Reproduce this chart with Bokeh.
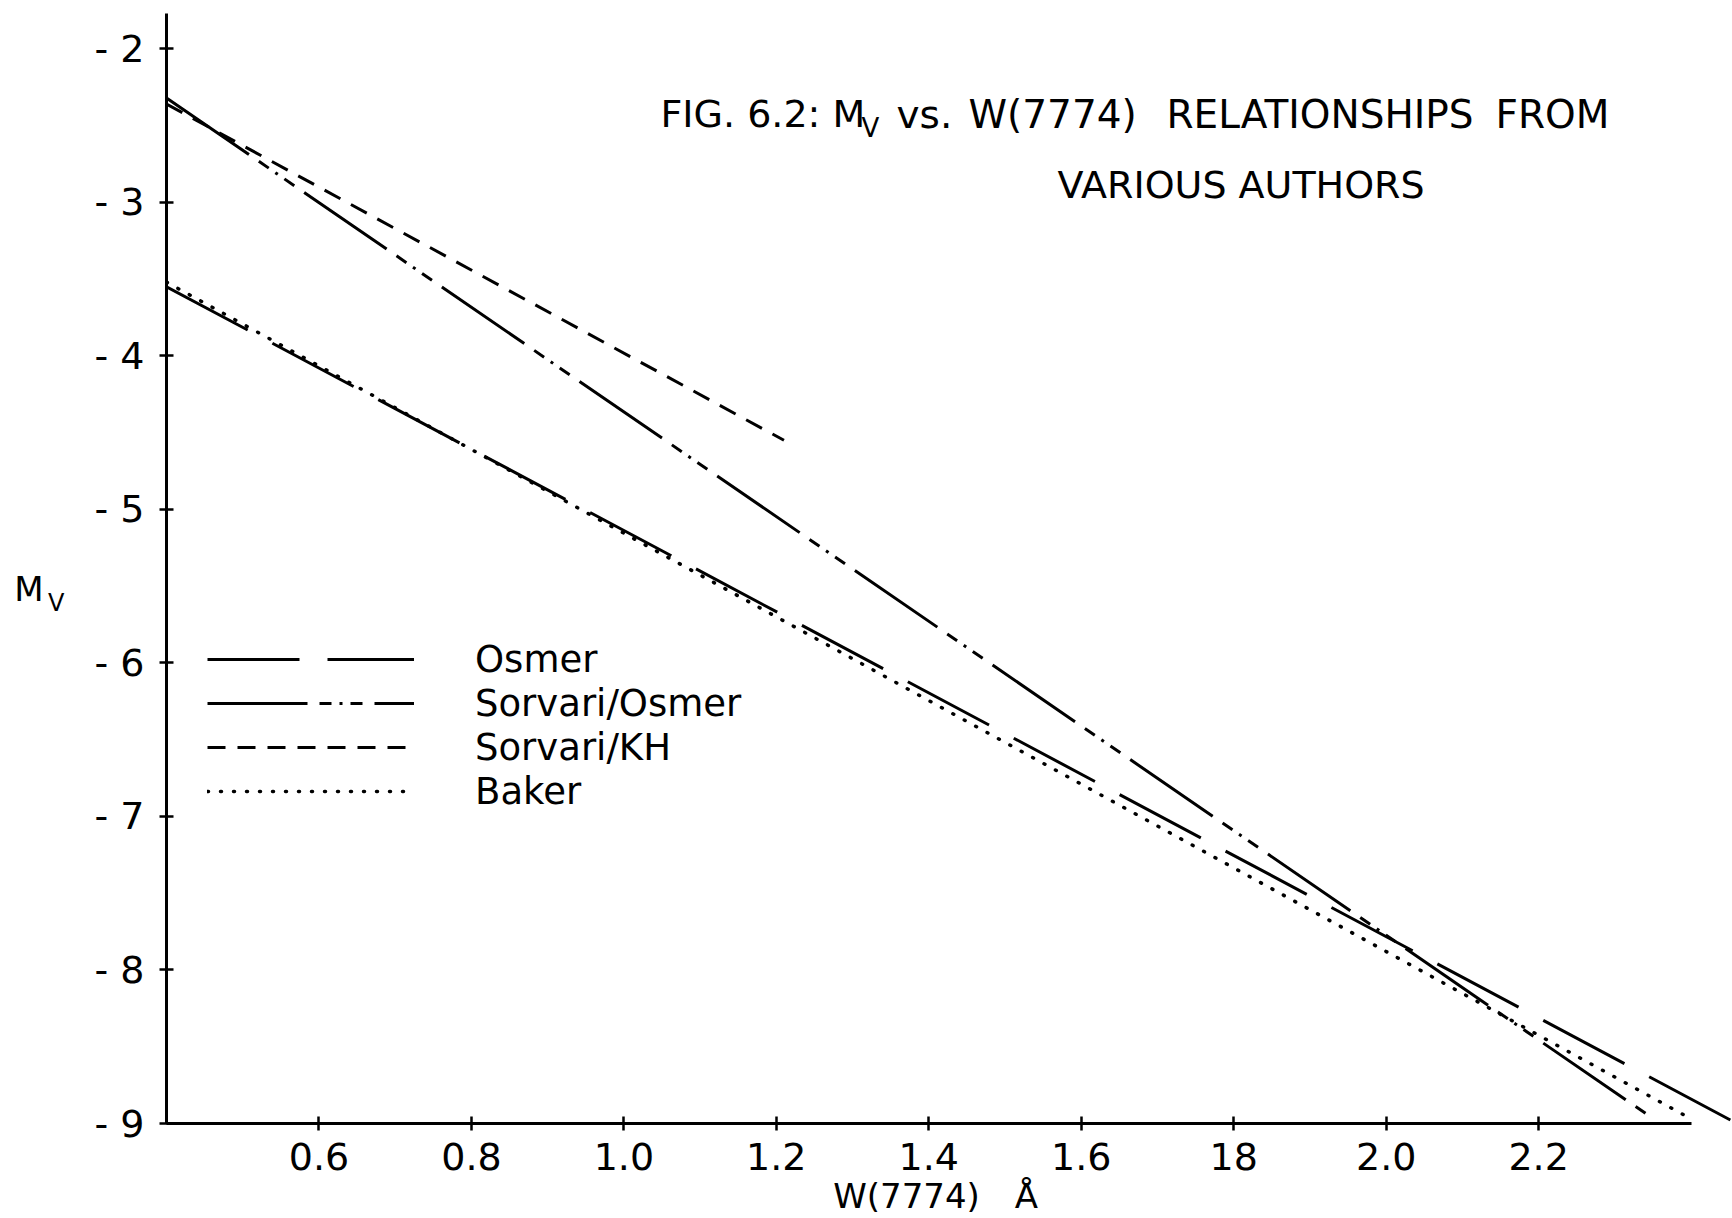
from bokeh.plotting import figure
from bokeh.models import (Range1d, FixedTicker, Label, Legend, LegendItem,
                          CustomJSTickFormatter, LinearAxis)
from bokeh.embed import file_html
from bokeh.resources import INLINE

# ---------------- data ----------------
osmer_w = [0.40, 2.46]
osmer_mv = [-3.55, -9.00]

sorvari_osmer_w = [0.40, 2.345]
sorvari_osmer_mv = [-2.32, -8.95]

sorvari_kh_w = [0.40, 1.21]
sorvari_kh_mv = [-2.36, -4.55]

baker_w = [0.40, 2.40]
baker_mv = [-3.52, -8.97]

series_names = ["Osmer", "Sorvari/Osmer", "Sorvari/KH", "Baker"]

x_ticks = [0.6, 0.8, 1.0, 1.2, 1.4, 1.6, 1.8, 2.0, 2.2]
x_tick_labels = ["0.6", "0.8", "1.0", "1.2", "1.4", "1.6", "18", "2.0", "2.2"]
y_ticks = [-2, -3, -4, -5, -6, -7, -8, -9]
y_tick_labels = ["- 2", "- 3", "- 4", "- 5", "- 6", "- 7", "- 8", "- 9"]

title_line1_words = ["FIG. 6.2: M", "vs.", "W(7774)", "RELATIONSHIPS", "FROM"]
title_line1_sub = "V"
title_line2 = "VARIOUS AUTHORS"
ylabel_main, ylabel_sub = "M", "V"
xlabel_main, xlabel_unit = "W(7774)", "Å"

# ---------------- layout ----------------
W, H = 1732, 1218
FL, FB = 166, 1125          # frame left / bottom in canvas pixels
X0, X1 = 0.4, 0.4 + (W - FL) / 762.3
Y0, Y1 = -9.0, -9.0 + FB / 153.8
XPX = (W - FL) / (X1 - X0)
YPX = FB / (Y1 - Y0)


def dx(px):
    return X0 + (px - FL) / XPX


def dy(py):
    return Y0 + (FB - py) / YPX


FONT = "DejaVu Sans"

p = figure(width=W, height=H, x_range=Range1d(X0, X1), y_range=Range1d(Y0, Y1),
           output_backend="svg", toolbar_location=None,
           min_border_left=FL, min_border_right=0, min_border_top=0,
           min_border_bottom=H - FB, background_fill_color="white",
           border_fill_color="white")
p.outline_line_color = None
p.grid.visible = False

FMT_CODE = ("const i = tv.findIndex(t => Math.abs(t - tick) < 1e-6); "
            "return i >= 0 ? tl[i] : '';")


def fmt(vals, labels):
    return CustomJSTickFormatter(args=dict(tv=vals, tl=labels), code=FMT_CODE)


# main axes
xa = p.xaxis[0]
xa.ticker = FixedTicker(ticks=x_ticks)
xa.formatter = fmt(x_ticks, x_tick_labels)
xa.bounds = (0.4, 2.4)
ya = p.yaxis[0]
ya.ticker = FixedTicker(ticks=y_ticks)
ya.formatter = fmt(y_ticks, y_tick_labels)
ya.bounds = (-9, -1.77)
for ax in (xa, ya):
    ax.axis_line_color = "black"
    ax.axis_line_width = 3
    ax.major_tick_line_color = "black"
    ax.major_tick_line_width = 2.5
    ax.major_tick_in = 7
    ax.major_tick_out = 7
    ax.minor_tick_line_color = None
    ax.major_label_text_font = FONT
    ax.major_label_text_font_size = "38px"
    ax.major_label_text_color = "black"
xa.major_label_standoff = 12
ya.major_label_standoff = 15


# axis titles drawn as label-only axes (so that they sit outside the frame)
def label_axis(vals, labels, size, standoff):
    ax = LinearAxis(ticker=FixedTicker(ticks=vals), formatter=fmt(vals, labels))
    ax.axis_line_color = None
    ax.major_tick_line_color = None
    ax.minor_tick_line_color = None
    ax.major_tick_in = 0
    ax.major_tick_out = 0
    ax.minor_tick_in = 0
    ax.minor_tick_out = 0
    ax.major_label_standoff = standoff
    ax.major_label_text_font = FONT
    ax.major_label_text_font_size = size
    ax.major_label_text_color = "black"
    return ax


yl_sub = [dy(604)]
yl_main = [dy(590)]
p.add_layout(label_axis(yl_sub, [ylabel_sub], "24px", 27), "left")
p.add_layout(label_axis(yl_main, [ylabel_main], "34px", 2), "left")
xl_pos = [dx(906), dx(1026)]
p.add_layout(label_axis(xl_pos, [xlabel_main, xlabel_unit], "34px", 3), "below")

# lines
common = dict(line_color="black", line_width=3)
r_osmer = p.line(osmer_w, osmer_mv, line_dash="92 28", **common)
r_so = p.line(sorvari_osmer_w, sorvari_osmer_mv, line_dash="100 12 12 8 3 8 12 12", **common)
r_kh = p.line(sorvari_kh_w, sorvari_kh_mv, line_dash="18 12", **common)
r_baker = p.line(baker_w, baker_mv, line_dash="1 12", line_cap="round",
                 line_color="black", line_width=3.5)

legend = Legend(items=[LegendItem(label=n, renderers=[r]) for n, r in
                       zip(series_names, [r_osmer, r_so, r_kh, r_baker])],
                location=(41, 310), orientation="vertical",
                glyph_width=207, glyph_height=44, label_height=44, spacing=0,
                label_standoff=61, padding=0, margin=0,
                border_line_color=None, background_fill_alpha=0,
                label_text_font=FONT, label_text_font_size="37px",
                label_text_color="black")
p.add_layout(legend)


def add_text(px, py, text, size, align="left"):
    p.add_layout(Label(x=dx(px), y=dy(py), text=text, text_font=FONT,
                       text_font_size=size, text_color="black",
                       text_align=align, text_baseline="middle"))


# title (word positions)
for word, xpos, size in zip(title_line1_words, [660, 896, 968, 1166, 1495],
                            ["38px", "39px", "39px", "39px", "39px"]):
    add_text(xpos, 114, word, size)
add_text(861, 128, title_line1_sub, "26px")
add_text(1057, 185, title_line2, "38px")

open("out.html", "w").write(file_html(p, INLINE))
